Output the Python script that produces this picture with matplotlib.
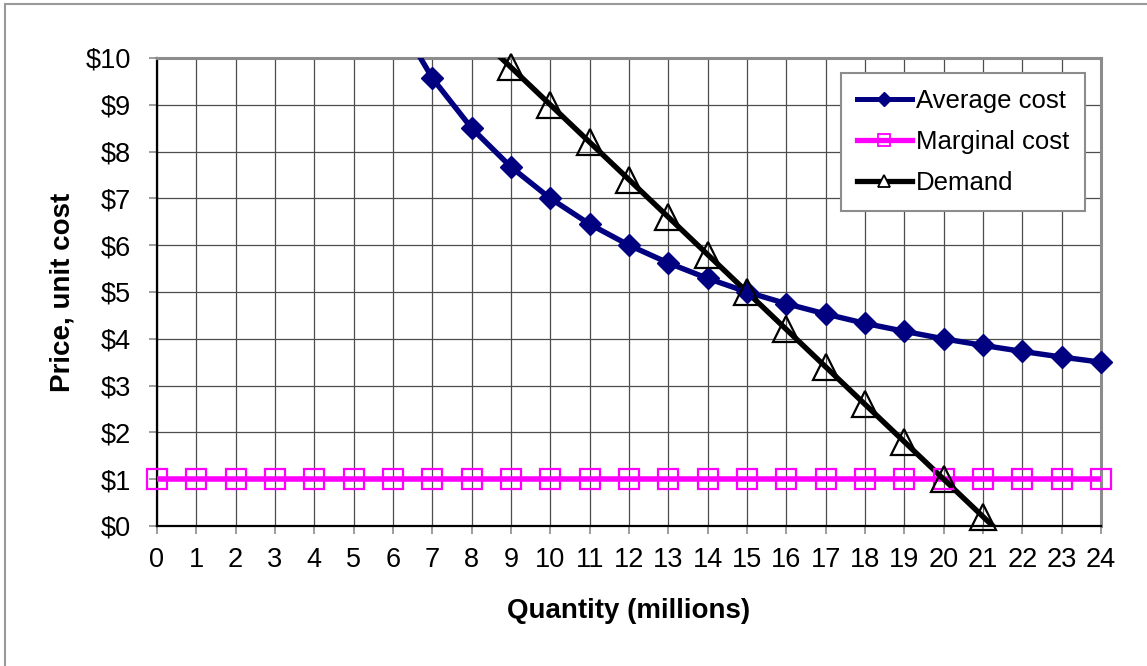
"""Average cost, marginal cost and demand vs quantity (Excel-style line chart)."""
import matplotlib
matplotlib.use("Agg")
import matplotlib.pyplot as plt
from matplotlib.lines import Line2D
from matplotlib.patches import Rectangle
import numpy as np

plt.rcParams["font.family"] = ["Liberation Sans", "DejaVu Sans"]

# --- data ---
quantity = list(range(0, 25))
marginal_cost = [1.0] * 25

avg_q = list(range(6, 25))
avg_cost = [11.0, 9.57, 8.5, 7.67, 7.0, 6.45, 6.0, 5.62, 5.29, 5.0,
            4.75, 4.53, 4.33, 4.16, 4.0, 3.86, 3.73, 3.61, 3.5]

demand_q = list(range(8, 23))
demand = [10.6, 9.8, 9.0, 8.2, 7.4, 6.6, 5.8, 5.0, 4.2, 3.4,
          2.6, 1.8, 1.0, 0.2, -0.6]

y_ticks = list(range(0, 11))
y_labels = [f"${v}" for v in y_ticks]

NAVY, MAGENTA = "#000080", "#FF00FF"
GRID, FRAME = "#4d4d4d", "#8c8c8c"


def series(ax, x, y, color, lw, marker, ms, mfc, mew):
    x, y = np.asarray(x, float), np.asarray(y, float)
    ax.plot(x, y, color=color, lw=lw, zorder=3, solid_capstyle="butt")
    keep = (y >= 0) & (y <= 10)
    ax.plot(x[keep], y[keep], ls="none", marker=marker, ms=ms, mfc=mfc,
            mec=color, mew=mew, clip_on=False, zorder=4)


fig = plt.figure(figsize=(11.47, 6.66), dpi=100)
ax = fig.add_axes([157 / 1147, 1 - 526 / 666, 944 / 1147, 468 / 666])

# outer chart border (only top/left edges fall inside the picture)
fig.add_artist(Rectangle((4.5 / 1147, -0.1), 1.2, (666 - 3.5) / 666 + 0.1,
                         transform=fig.transFigure, fill=False,
                         ec="#9a9a9a", lw=1.5))

series(ax, avg_q, avg_cost, NAVY, 3.9, "D", 11.5, NAVY, 1.0)
series(ax, quantity, marginal_cost, MAGENTA, 4.0, "s", 15, "none", 1.6)
series(ax, demand_q, demand, "black", 3.9, "^", 18.5, "none", 1.6)

ax.set_xlim(0, 24)
ax.set_ylim(0, 10)
ax.set_xticks(quantity)
ax.set_yticks(y_ticks)
ax.set_yticklabels(y_labels)
ax.tick_params(axis="both", labelsize=19.5, colors=FRAME, labelcolor="black",
               direction="out", width=1.2)
ax.tick_params(axis="x", length=6, pad=9)
ax.tick_params(axis="y", length=6, pad=13)
ax.grid(True, color=GRID, lw=0.9)
ax.set_axisbelow(True)

for side in ("top", "right"):
    ax.spines[side].set_color(FRAME)
    ax.spines[side].set_linewidth(2.2)
for side in ("left", "bottom"):
    ax.spines[side].set_color("black")
    ax.spines[side].set_linewidth(1.6)

ax.set_xlabel("Quantity (millions)", fontsize=20, fontweight="bold", labelpad=18)
ax.set_ylabel("Price, unit cost", fontsize=20, fontweight="bold", labelpad=7)

handles = [
    Line2D([], [], color=NAVY, lw=3.6, marker="D", ms=7.5, mfc=NAVY, mec=NAVY),
    Line2D([], [], color=MAGENTA, lw=3.8, marker="s", ms=8.5, mfc="none",
           mec=MAGENTA, mew=1.3),
    Line2D([], [], color="black", lw=3.8, marker="^", ms=8.5, mfc="white",
           mec="black", mew=1.3),
]
leg = ax.legend(handles, ["Average cost", "Marginal cost", "Demand"],
                loc="upper right", bbox_to_anchor=(0.983, 0.968),
                borderaxespad=0, fontsize=18.5, handlelength=2.15,
                handletextpad=0.15, labelspacing=0.66, borderpad=0.62,
                fancybox=False, framealpha=1, edgecolor=FRAME)
leg.get_frame().set_linewidth(1.5)
leg.set_zorder(10)

fig.savefig("out.png", dpi=100)
